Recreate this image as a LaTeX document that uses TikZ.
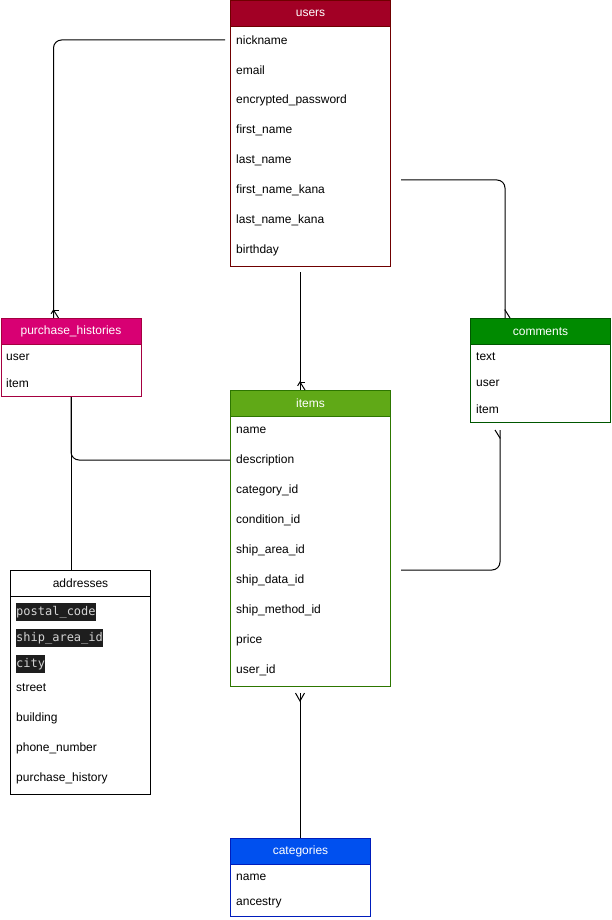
\documentclass[tikz,border=0pt]{standalone}
\usepackage{fontspec}
\setmainfont{Liberation Sans}
\newfontfamily\codefont{DejaVu Sans Mono}
\usepackage{tikz}
\usetikzlibrary{calc}
\usetikzlibrary{decorations.markings}

\definecolor{usersfill}{HTML}{A20025}
\definecolor{usersline}{HTML}{6F0000}
\definecolor{purchfill}{HTML}{D80073}
\definecolor{purchline}{HTML}{A50040}
\definecolor{commfill}{HTML}{008A00}
\definecolor{commline}{HTML}{005700}
\definecolor{itemsfill}{HTML}{60A917}
\definecolor{itemsline}{HTML}{2D7600}
\definecolor{catfill}{HTML}{0050EF}
\definecolor{catline}{HTML}{001DBC}
\definecolor{codebg}{HTML}{1E1E1E}
\definecolor{codetext}{HTML}{D4D4D4}

\tikzset{
  tablebox/.style={draw, fill=white, anchor=north west, line width=1pt, inner sep=0},
  tablehead/.style={draw, anchor=north west, line width=1pt, minimum height=26, inner sep=0, text=white},
  field/.style={anchor=west, inner sep=0},
  codefield/.style={anchor=west, inner xsep=0, inner ysep=0, minimum height=18, fill=codebg, text=codetext,
    font=\codefont\fontsize{12}{14}\selectfont},
  relline/.style={line width=1pt},
  onemany/.style={postaction={decorate, decoration={markings, mark=at position 1 with {
    \draw[line width=1pt, sharp corners] (-8pt,-5pt) -- (-8pt,5pt);
    \draw[line width=1pt, sharp corners] (0pt,-5pt) -- (-8pt,0pt) -- (0pt,5pt);}}}},
  manyonly/.style={postaction={decorate, decoration={markings, mark=at position 1 with {
    \draw[line width=1pt, sharp corners] (0pt,-4.5pt) -- (-8pt,0pt) -- (0pt,4.5pt);}}}}
}

\begin{document}
\begin{tikzpicture}[x=1pt, y=-1pt, every node/.style={font=\fontsize{12}{14}\selectfont}]
  \useasboundingbox (0,0) rectangle (611,920);

  % Drawing table users
  \node[tablebox, draw=usersline, minimum width=160, minimum height=266] (users) at (230,0) {};
  \node[tablehead, fill=usersfill, draw=usersline, minimum width=160] (users-head) at (users.north west) {users};
  \node[field] (users-nickname) at (236,40) {nickname};
  \node[field] (users-email) at (236,70) {email};
  \node[field] (users-password) at (236,100) {encrypted\_password};
  \node[field] (users-firstname) at (236,130) {first\_name};
  \node[field] (users-lastname) at (236,160) {last\_name};
  \node[field] (users-firstkana) at (236,190) {first\_name\_kana};
  \node[field] (users-lastkana) at (236,220) {last\_name\_kana};
  \node[field] (users-birthday) at (236,250) {birthday};

  % Drawing table purchase_histories
  \node[tablebox, draw=purchline, minimum width=140, minimum height=78] (purchases) at (0.5,318) {};
  \node[tablehead, fill=purchfill, draw=purchline, minimum width=140] (purchases-head) at (purchases.north west) {purchase\_histories};
  \node[field] (purchases-user) at (6,357) {user};
  \node[field] (purchases-item) at (6,383) {item};

  % Drawing table comments
  \node[tablebox, draw=commline, minimum width=140, minimum height=104] (comments) at (470,318) {};
  \node[tablehead, fill=commfill, draw=commline, minimum width=140] (comments-head) at (comments.north west) {comments};
  \node[field] (comments-text) at (476,357) {text};
  \node[field] (comments-user) at (476,383) {user};
  \node[field] (comments-item) at (476,409) {item};

  % Drawing table items
  \node[tablebox, draw=itemsline, minimum width=160, minimum height=296] (items) at (230,390) {};
  \node[tablehead, fill=itemsfill, draw=itemsline, minimum width=160] (items-head) at (items.north west) {items};
  \node[field] (items-name) at (236,430) {name};
  \node[field] (items-description) at (236,460) {description};
  \node[field] (items-category) at (236,490) {category\_id};
  \node[field] (items-condition) at (236,520) {condition\_id};
  \node[field] (items-shiparea) at (236,550) {ship\_area\_id};
  \node[field] (items-shipdata) at (236,580) {ship\_data\_id};
  \node[field] (items-shipmethod) at (236,610) {ship\_method\_id};
  \node[field] (items-price) at (236,640) {price};
  \node[field] (items-user) at (236,670) {user\_id};

  % Drawing table addresses
  \node[tablebox, draw=black, minimum width=140, minimum height=224] (addresses) at (10,570) {};
  \node[tablehead, fill=white, draw=black, text=black, minimum width=140] (addresses-head) at (addresses.north west) {addresses};
  \node[codefield] (addresses-postal) at (16,612) {postal\_code};
  \node[codefield] (addresses-shiparea) at (16,638) {ship\_area\_id};
  \node[codefield] (addresses-city) at (16,664) {city};
  \node[field] (addresses-street) at (16,688) {street};
  \node[field] (addresses-building) at (16,718) {building};
  \node[field] (addresses-phone) at (16,748) {phone\_number};
  \node[field] (addresses-history) at (16,778) {purchase\_history};

  % Drawing table categories
  \node[tablebox, draw=catline, minimum width=140, minimum height=78] (categories) at (230,838) {};
  \node[tablehead, fill=catfill, draw=catline, minimum width=140] (categories-head) at (categories.north west) {categories};
  \node[field] (categories-name) at (236,877) {name};
  \node[field] (categories-ancestry) at (236,903) {ancestry};

  % Drawing relation users -> purchase_histories
  \draw[relline, rounded corners=8pt, shorten <=5pt, onemany] (users.west |- users-nickname) -| ($(purchases.north west)+(53,0)$);

  % Drawing relation users -> items
  \draw[relline, shorten <=5pt, onemany] ($(users.south west)+(70,0)$) -- ($(items.north west)+(70,0)$);

  % Drawing relation users -> comments
  \draw[relline, rounded corners=8pt, shorten <=10pt, onemany] ($(users.north east)+(0,180)$) -| ($(comments.north west)+(35,0)$);

  % Drawing relation items -> comments
  \draw[relline, rounded corners=8pt, shorten <=10pt, onemany] ($(items.north east)+(0,180)$) -| ($(comments.south west)+(30,7)$);

  % Drawing relation items -> purchase_histories
  \draw[relline, rounded corners=8pt] (items.west |- items-description) -| (purchases.south);

  % Drawing relation purchase_histories -> addresses
  \draw[relline] (purchases.south) -- (purchases.south |- addresses.north);

  % Drawing relation categories -> items
  \draw[relline, manyonly] ($(categories.north west)+(70,0)$) -- ($(items.south west)+(70,6)$);
\end{tikzpicture}
\end{document}
